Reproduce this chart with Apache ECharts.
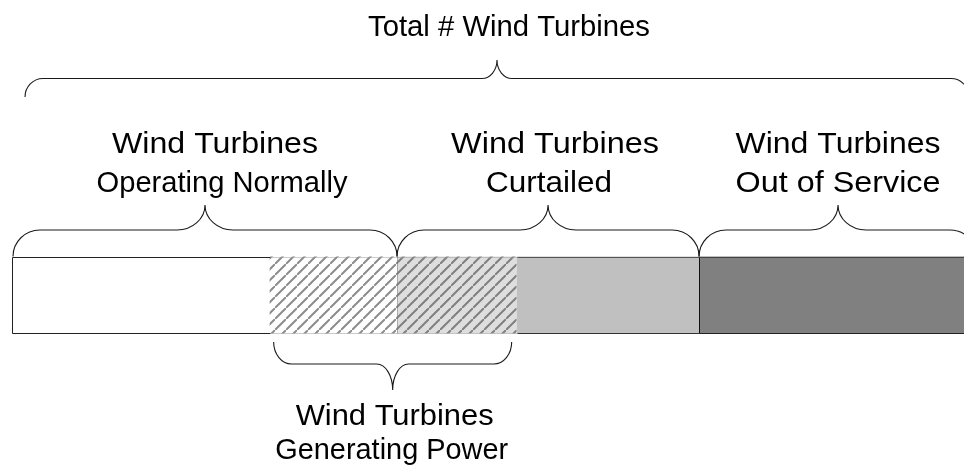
<!DOCTYPE html>
<html><head><meta charset="utf-8">
<script src="https://cdn.jsdelivr.net/npm/echarts@6/dist/echarts.min.js"></script>
<style>html,body{margin:0;padding:0;background:#fff}#c{width:964px;height:466px}</style>
</head><body><div id="c"></div>
<script>
// Share (%) of all wind turbines in each state, left to right along the bar
const segmentNames = ['Operating normally, not generating', 'Operating normally, generating', 'Curtailed, generating', 'Curtailed, not generating', 'Out of service'];
const segmentValues = [26.7, 13.2, 12.4, 18.9, 28.8];
const barCategory = ['Wind Turbines'];

// Braces: which segments each brace spans (first..last index) and its label lines
const braceFirst = [0, 0, 2, 4, 1];
const braceLast = [4, 1, 3, 4, 2];
const braceLabels = [
  ['Total # Wind Turbines'],
  ['Wind Turbines', 'Operating Normally'],
  ['Wind Turbines', 'Curtailed'],
  ['Wind Turbines', 'Out of Service'],
  ['Wind Turbines', 'Generating Power']
];

// ---------- styling ----------
function hatch(bg, line) {
  const s = 11, c = document.createElement('canvas');
  c.width = s; c.height = s;
  const g = c.getContext('2d');
  g.fillStyle = bg; g.fillRect(0, 0, s, s);
  g.strokeStyle = line; g.lineWidth = 2;
  g.beginPath();
  g.moveTo(-1, s + 1); g.lineTo(s + 1, -1);
  g.moveTo(-2, 1); g.lineTo(1, -2);
  g.moveTo(s - 1, s + 2); g.lineTo(s + 2, s - 1);
  g.stroke();
  return { image: c, repeat: 'repeat' };
}
const segColors = ['#ffffff', hatch('#ffffff', '#8c8c8c'), hatch('#dedede', '#808080'), '#c0c0c0', '#808080'];
const edgeStyle = [
  { top: '#222', bottom: '#222', dash: null, left: '#222', leftDash: null },
  { top: '#999', bottom: '#999', dash: [1, 1], left: null },
  { top: '#999', bottom: '#999', dash: [1, 1], left: '#777', leftDash: [1, 1] },
  { top: '#555', bottom: '#333', dash: null, left: null },
  { top: '#444', bottom: '#222', dash: null, left: '#111', leftDash: null }
];
const BAR_W = 77;
const FONT_PX = 29;
const FONT = FONT_PX + 'px "Liberation Sans", Arial, sans-serif';
// the bar runs past the right edge of the picture: show only this much of the 0..100 scale
const VISIBLE_MAX = 100 * 952 / 965;
// per brace geometry (pixel offsets relative to the bar) and label placement
const braceStyle = [
  { side: 'top', gap: 159.5, line: 178, tip: 196.5, r: 18, r2: 15, inset: [13, 8], lineY: [27.5], dx: [12], w: [282] },
  { side: 'top', gap: 0, line: 26.5, tip: 51.5, r: 27, r2: 28, inset: [1, 0], lineY: [144.5, 184], dx: [10, 17], w: [206, 251] },
  { side: 'top', gap: 0, line: 26.5, tip: 51.5, r: 27, r2: 28, inset: [0, 0], lineY: [144.5, 184], dx: [7, 1], w: [208, 126] },
  { side: 'top', gap: 0, line: 26.5, tip: 51.5, r: 27, r2: 28, inset: [0, 0], lineY: [144.5, 184], dx: [0, 0], w: [205, 205] },
  { side: 'bottom', gap: 8.5, line: 30.5, tip: 56.5, r: 18, r2: 16, inset: [4, 5], lineY: [417, 451], dx: [2, -1], w: [198, 233] }
];
const measurer = document.createElement('canvas').getContext('2d');
measurer.font = FONT;

// ---------- derived data ----------
const cum = [0];
segmentValues.forEach(v => cum.push(cum[cum.length - 1] + v));
const segData = segmentValues.map((v, i) => [cum[i], cum[i + 1], i]);
const braceData = braceFirst.map((f, i) => [cum[f], cum[braceLast[i] + 1], i]);

function bracePath(x0, x1, xm, yEnd, yLine, yTip, r, r2) {
  const k = 0.5523;
  return 'M' + x0 + ',' + yEnd +
    ' C' + x0 + ',' + (yEnd + k * (yLine - yEnd)) + ' ' + (x0 + r - k * r) + ',' + yLine + ' ' + (x0 + r) + ',' + yLine +
    ' L' + (xm - r2) + ',' + yLine +
    ' C' + (xm - r2 + k * r2) + ',' + yLine + ' ' + xm + ',' + (yTip + k * (yLine - yTip)) + ' ' + xm + ',' + yTip +
    ' C' + xm + ',' + (yTip + k * (yLine - yTip)) + ' ' + (xm + r2 - k * r2) + ',' + yLine + ' ' + (xm + r2) + ',' + yLine +
    ' L' + (x1 - r) + ',' + yLine +
    ' C' + (x1 - r + k * r) + ',' + yLine + ' ' + x1 + ',' + (yEnd + k * (yLine - yEnd)) + ' ' + x1 + ',' + yEnd;
}

const series = segmentValues.map((v, i) => ({
  name: segmentNames[i], type: 'bar', stack: 'total', barWidth: BAR_W, clip: true,
  data: [v], itemStyle: { color: segColors[i], borderWidth: 0 }, silent: true
}));

series.push({
  type: 'custom', name: 'edges', data: segData, encode: { x: [0, 1] }, clip: false, z: 5,
  renderItem: function (params, api) {
    const a = api.coord([api.value(0), 0]), b = api.coord([api.value(1), 0]);
    const st = edgeStyle[api.value(2)];
    const yt = Math.round(a[1] - BAR_W / 2) + 0.5, yb = Math.round(a[1] + BAR_W / 2) - 0.5;
    const x0 = Math.round(a[0]) + 0.5, x1 = Math.round(b[0]) + 0.5;
    const ch = [
      { type: 'line', shape: { x1: x0, y1: yt, x2: x1, y2: yt }, style: { stroke: st.top, lineWidth: 1, lineDash: st.dash } },
      { type: 'line', shape: { x1: x0, y1: yb, x2: x1, y2: yb }, style: { stroke: st.bottom, lineWidth: 1, lineDash: st.dash } }
    ];
    if (st.left) ch.push({ type: 'line', shape: { x1: x0, y1: yt, x2: x0, y2: yb }, style: { stroke: st.left, lineWidth: 1, lineDash: st.leftDash } });
    return { type: 'group', children: ch };
  }
});

series.push({
  type: 'custom', name: 'braces', data: braceData, encode: { x: [0, 1] }, clip: false, z: 6,
  renderItem: function (params, api) {
    const i = api.value(2), bs = braceStyle[i];
    const a = api.coord([api.value(0), 0]), b = api.coord([api.value(1), 0]);
    const x0 = a[0] + bs.inset[0], x1 = b[0] - bs.inset[1], xm = (x0 + x1) / 2;
    const sgn = bs.side === 'top' ? -1 : 1;
    const base = a[1] + sgn * BAR_W / 2;
    const yEnd = base + sgn * bs.gap, yLine = base + sgn * bs.line, yTip = base + sgn * bs.tip;
    const ch = [{
      type: 'path', shape: { pathData: bracePath(x0, x1, xm, yEnd, yLine, yTip, bs.r, bs.r2) },
      style: { stroke: '#1a1a1a', fill: 'none', lineWidth: 1.1 }
    }];
    braceLabels[i].forEach((t, j) => {
      const sx = bs.w[j] / measurer.measureText(t).width;
      ch.push({
        type: 'group', x: xm + bs.dx[j], y: bs.lineY[j], scaleX: sx,
        children: [{
          type: 'text', x: 0, y: 0,
          style: { text: t, font: FONT, fill: '#000', align: 'center', verticalAlign: 'middle', textAlign: 'center', textVerticalAlign: 'middle' }
        }]
      });
    });
    return { type: 'group', children: ch };
  }
});

const chart = echarts.init(document.getElementById('c'), null, { renderer: 'canvas' });
chart.setOption({
  animation: false,
  backgroundColor: '#ffffff',
  grid: { left: 12, right: 0, top: 256, height: 78, containLabel: false },
  xAxis: { type: 'value', min: 0, max: VISIBLE_MAX, show: false },
  yAxis: { type: 'category', data: barCategory, show: false },
  tooltip: { show: false },
  series: series
});
</script>
</body></html>
